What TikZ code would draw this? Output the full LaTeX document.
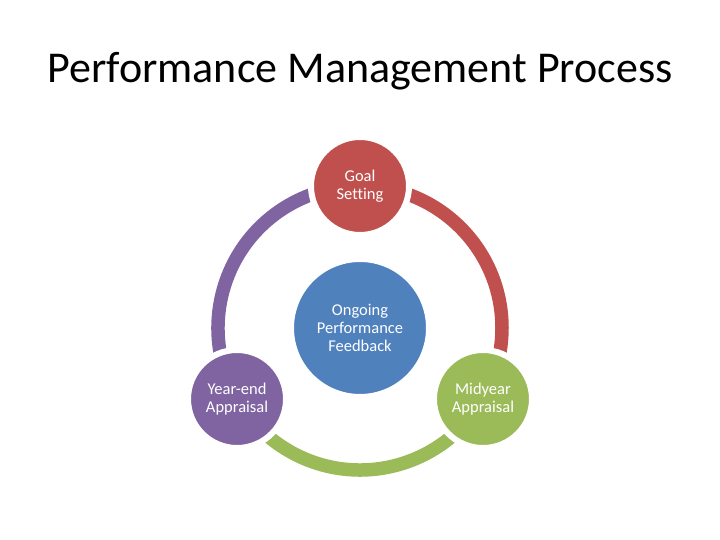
\documentclass[tikz,border=0pt]{standalone}
\usepackage{fontspec}
\setmainfont{Carlito}[Ligatures=NoCommon]
\usetikzlibrary{calc,positioning,backgrounds}
\definecolor{goalred}{HTML}{C0504D}
\definecolor{midgreen}{HTML}{9BBB59}
\definecolor{yearpurple}{HTML}{8064A2}
\definecolor{feedblue}{HTML}{4F81BD}

\begin{document}
\begin{tikzpicture}[
  x=1pt,y=1pt,
  line cap=butt,
  stage/.style={circle,draw=white,line width=6pt,minimum size=98pt,
    inner sep=0pt,text=white,align=center,
    font=\fontsize{16.5}{18}\selectfont},
  cyclearc/.style={line width=13.5pt}
]
\path[use as bounding box] (0,0) rectangle (720,540);

\node[font=\fontsize{44}{50}\selectfont] (title) at (360,469)
  {Performance Management Process};

\coordinate (hub) at (360,212);
\node[stage,fill=feedblue,minimum size=138pt] (ongoing) at (hub)
  {Ongoing\\Performance\\Feedback};
\node[stage,fill=goalred] (goal) at ($(hub)+(90:142)$) {Goal\\Setting};
\node[stage,fill=midgreen] (midyear) at ($(hub)+(-30:142)$) {Midyear\\Appraisal};
\node[stage,fill=yearpurple] (yearend) at ($(hub)+(210:142)$) {Year-end\\Appraisal};

\begin{scope}[on background layer]
  \draw[cyclearc,goalred] (goal.center)
    arc[start angle=90,end angle=-30,radius=142pt];
  \draw[cyclearc,midgreen] (midyear.center)
    arc[start angle=-30,end angle=-150,radius=142pt];
  \draw[cyclearc,yearpurple] (yearend.center)
    arc[start angle=210,end angle=90,radius=142pt];
\end{scope}
\end{tikzpicture}
\end{document}
